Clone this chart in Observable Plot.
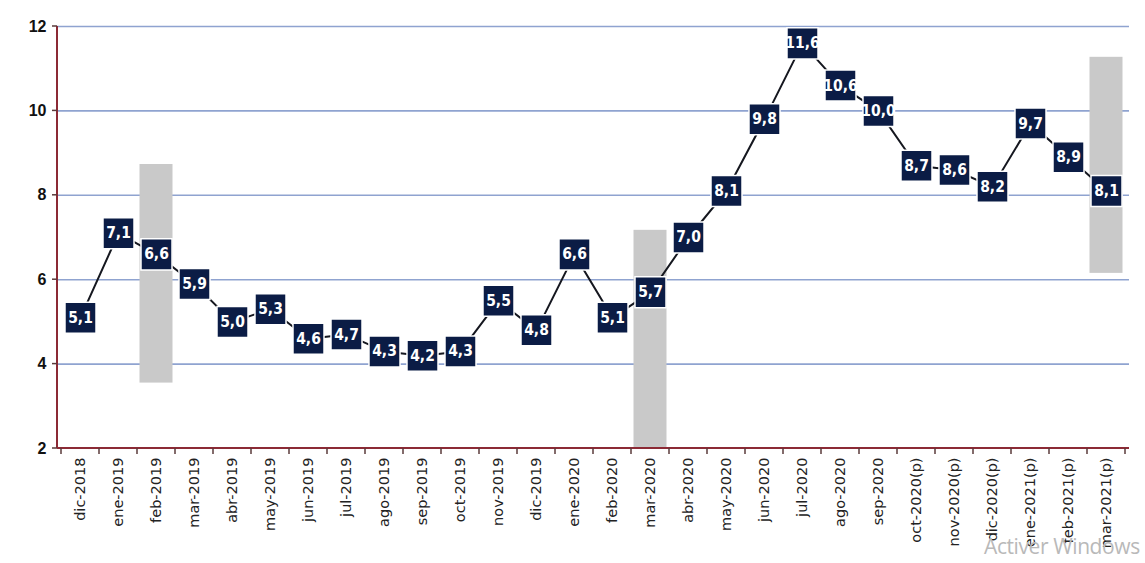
<!DOCTYPE html>
<html>
<head>
<meta charset="utf-8">
<script src="https://cdn.jsdelivr.net/npm/d3@7"></script>
<script src="https://cdn.jsdelivr.net/npm/@observablehq/plot@0.6"></script>
<style>
  html, body { margin: 0; padding: 0; background: #ffffff; }
  #wrap { position: relative; width: 1145px; height: 563px; }
  #mark { position: absolute; left: 984px; top: 532px; font: 21px "Open Sans", sans-serif; color: #b9b9b9; letter-spacing: -0.4px; white-space: nowrap; }
</style>
</head>
<body>
<div id="wrap">
  <div id="chart"></div>
  <div id="mark">Activer Windows</div>
</div>
<script>
// Monthly series (%), Spanish month labels; (p) = provisional
const months = [
  "dic-2018", "ene-2019", "feb-2019", "mar-2019", "abr-2019", "may-2019", "jun-2019",
  "jul-2019", "ago-2019", "sep-2019", "oct-2019", "nov-2019", "dic-2019", "ene-2020",
  "feb-2020", "mar-2020", "abr-2020", "may-2020", "jun-2020", "jul-2020", "ago-2020",
  "sep-2020", "oct-2020(p)", "nov-2020(p)", "dic-2020(p)", "ene-2021(p)", "feb-2021(p)", "mar-2021(p)"
];
const values = [
  5.1, 7.1, 6.6, 5.9, 5.0, 5.3, 4.6,
  4.7, 4.3, 4.2, 4.3, 5.5, 4.8, 6.6,
  5.1, 5.7, 7.0, 8.1, 9.8, 11.6, 10.6,
  10.0, 8.7, 8.6, 8.2, 9.7, 8.9, 8.1
];
// Shaded ranges shown behind three of the months
const rangeMonths = ["feb-2019", "mar-2020", "mar-2021(p)"];
const rangeLow = [3.55, 2.0, 6.15];
const rangeHigh = [8.73, 7.17, 11.27];
const yTicks = [2, 4, 6, 8, 10, 12];

const data = months.map((m, i) => ({month: m, value: values[i]}));
const ranges = rangeMonths.map((m, i) => ({month: m, lo: rangeLow[i], hi: rangeHigh[i]}));
const fmt = v => d3.format(".1f")(v).replace(".", ",");

const axisRed = "#8c2a35";

// Red left/bottom axis lines with tick marks on the band boundaries
function axisLines(index, scales, values, dims) {
  const x = scales.x, y = scales.y;
  const g = d3.create("svg:g");
  const left = dims.marginLeft;
  const right = dims.width - dims.marginRight;
  const bottom = y(2), top = y(12);
  g.append("line").attr("x1", left).attr("x2", left).attr("y1", top).attr("y2", bottom)
    .attr("stroke", axisRed).attr("stroke-width", 2);
  g.append("line").attr("x1", left).attr("x2", right).attr("y1", bottom).attr("y2", bottom)
    .attr("stroke", axisRed).attr("stroke-width", 2);
  const bw = x.bandwidth ? x.bandwidth() : (right - left) / months.length;
  const edges = months.map(m => x(m)).concat([x(months[months.length - 1]) + bw]);
  for (const ex of edges) {
    g.append("line").attr("x1", ex).attr("x2", ex).attr("y1", bottom).attr("y2", bottom + 6)
      .attr("stroke", "#5a3a3a").attr("stroke-width", 1.5);
  }
  for (const t of yTicks) {
    g.append("line").attr("x1", left - 5).attr("x2", left).attr("y1", y(t)).attr("y2", y(t))
      .attr("stroke", "#5a3a3a").attr("stroke-width", 1.5);
  }
  return g.node();
}

const chart = Plot.plot({
  width: 1145,
  height: 563,
  marginLeft: 57,
  marginRight: 16,
  marginTop: 26,
  marginBottom: 115,
  style: {background: "transparent"},
  x: {domain: months, padding: 0, label: null},
  y: {domain: [2, 12], label: null},
  marks: [
    Plot.ruleY([4, 6, 8, 10, 12], {stroke: "#8fa3d0", strokeWidth: 1.6}),
    Plot.barY(ranges, {x: "month", y1: "lo", y2: "hi", fill: "#c9c9c9", insetLeft: 2.5, insetRight: 2.5}),
    axisLines,
    Plot.axisY({ticks: yTicks, tickSize: 0, tickPadding: 11, fontSize: 16, fontWeight: "bold",
      fontFamily: "Liberation Sans, Arial, sans-serif", fill: "#111", label: null}),
    Plot.axisX({tickSize: 0, tickRotate: -90, tickPadding: 9, fontSize: 14.5,
      fontFamily: "DejaVu Sans, sans-serif", fill: "#222", label: null}),
    Plot.line(data, {x: "month", y: "value", stroke: "#15171f", strokeWidth: 2}),
    Plot.dot(data, {x: "month", y: "value", symbol: "square", r: 17.5, fill: "#0b1c45",
      stroke: "#ffffff", strokeWidth: 1.5}),
    Plot.text(data, {x: "month", y: "value", text: d => fmt(d.value), fill: "#ffffff",
      fontSize: 15.5, fontWeight: "bold", fontFamily: "DejaVu Sans Condensed, DejaVu Sans, sans-serif"})
  ]
});
document.getElementById("chart").append(chart);
</script>
</body>
</html>
